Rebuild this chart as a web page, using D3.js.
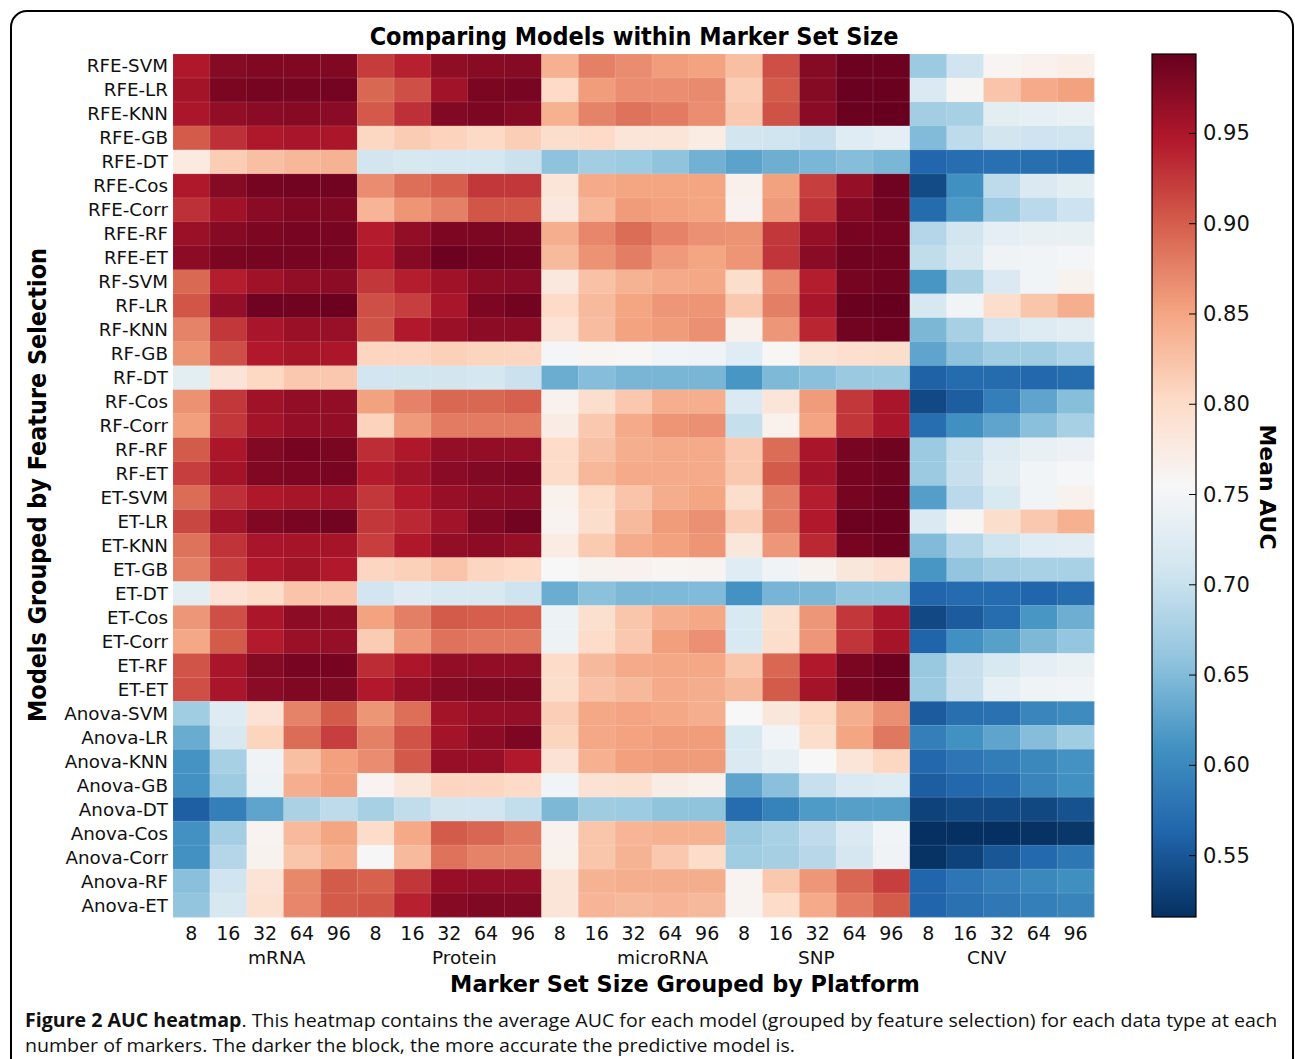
<!DOCTYPE html>
<html><head><meta charset="utf-8">
<script src="https://cdn.jsdelivr.net/npm/d3@7"></script>
<style>body{margin:0;background:#fff}svg{display:block}</style>
</head><body>
<svg id="chart" width="1295" height="1059"></svg>
<script>
const models = ["RFE-SVM","RFE-LR","RFE-KNN","RFE-GB","RFE-DT","RFE-Cos","RFE-Corr","RFE-RF","RFE-ET",
"RF-SVM","RF-LR","RF-KNN","RF-GB","RF-DT","RF-Cos","RF-Corr","RF-RF","RF-ET",
"ET-SVM","ET-LR","ET-KNN","ET-GB","ET-DT","ET-Cos","ET-Corr","ET-RF","ET-ET",
"Anova-SVM","Anova-LR","Anova-KNN","Anova-GB","Anova-DT","Anova-Cos","Anova-Corr","Anova-RF","Anova-ET"];
const platforms = ["mRNA","Protein","microRNA","SNP","CNV"];
const markerSizes = ["8","16","32","64","96"];
const colorbarTicks = [0.55,0.60,0.65,0.70,0.75,0.80,0.85,0.90,0.95];

const mRNA = [
[.948,.975,.978,.978,.978],[.955,.982,.985,.985,.986],[.950,.967,.972,.974,.972],[.902,.930,.948,.952,.950],
[.778,.815,.828,.835,.838],[.948,.975,.985,.987,.987],[.930,.958,.972,.978,.978],[.962,.974,.980,.983,.983],
[.970,.982,.985,.985,.983],[.892,.943,.958,.967,.970],[.905,.966,.988,.989,.990],[.874,.925,.952,.962,.963],
[.863,.910,.947,.953,.950],[.730,.787,.805,.820,.820],[.864,.925,.958,.967,.967],[.855,.925,.955,.966,.967],
[.902,.950,.977,.984,.982],[.920,.955,.978,.980,.983],[.890,.930,.948,.953,.958],[.915,.957,.978,.983,.987],
[.885,.928,.952,.954,.954],[.877,.920,.946,.955,.947],[.730,.790,.800,.823,.823],[.860,.910,.950,.970,.968],
[.848,.902,.945,.962,.965],[.906,.952,.975,.983,.984],[.910,.952,.972,.979,.979],[.671,.724,.790,.874,.902],
[.635,.716,.808,.890,.920],[.612,.676,.745,.828,.854],[.610,.668,.743,.842,.855],[.558,.590,.628,.678,.692],
[.610,.673,.762,.832,.850],[.610,.685,.763,.822,.840],[.655,.707,.788,.871,.902],[.660,.715,.794,.872,.902]];
const protein = [
[.922,.940,.968,.973,.975],[.893,.910,.957,.982,.983],[.903,.930,.977,.980,.974],[.806,.816,.810,.804,.814],
[.710,.715,.712,.712,.703],[.868,.888,.900,.925,.925],[.837,.862,.876,.905,.905],[.944,.967,.980,.981,.979],
[.947,.974,.990,.987,.985],[.925,.943,.958,.970,.972],[.910,.920,.952,.980,.987],[.907,.946,.962,.970,.970],
[.807,.807,.812,.808,.807],[.708,.709,.710,.712,.703],[.853,.875,.893,.893,.899],[.810,.858,.880,.880,.880],
[.932,.948,.966,.967,.966],[.945,.957,.972,.977,.980],[.925,.946,.964,.970,.972],[.925,.935,.957,.978,.987],
[.920,.948,.967,.970,.965],[.807,.812,.823,.807,.803],[.708,.724,.717,.717,.705],[.852,.877,.902,.900,.900],
[.816,.860,.886,.882,.882],[.933,.950,.967,.967,.967],[.946,.964,.975,.979,.979],[.861,.888,.955,.964,.966],
[.876,.907,.955,.970,.980],[.868,.903,.964,.964,.946],[.762,.784,.807,.807,.802],[.676,.695,.710,.708,.696],
[.800,.847,.902,.894,.882],[.756,.832,.886,.874,.874],[.898,.926,.964,.966,.966],[.905,.940,.974,.979,.977]];
const microRNA = [
[.840,.876,.868,.856,.852],[.802,.856,.867,.867,.869],[.840,.874,.885,.880,.867],[.797,.802,.785,.785,.775],
[.657,.672,.668,.658,.640],[.785,.845,.850,.850,.850],[.780,.835,.857,.853,.850],[.842,.872,.890,.875,.865],
[.832,.863,.878,.858,.850],[.780,.825,.838,.846,.848],[.802,.832,.850,.860,.862],[.788,.830,.852,.857,.865],
[.750,.760,.757,.746,.745],[.636,.652,.644,.644,.644],[.765,.797,.820,.842,.842],[.773,.820,.845,.862,.865],
[.800,.827,.842,.845,.846],[.800,.835,.845,.846,.846],[.766,.800,.823,.843,.850],[.762,.797,.832,.857,.865],
[.775,.818,.844,.853,.862],[.755,.763,.765,.760,.762],[.636,.656,.647,.648,.650],[.742,.795,.822,.842,.848],
[.742,.800,.820,.855,.865],[.800,.833,.846,.848,.848],[.798,.825,.833,.845,.843],[.814,.848,.851,.848,.842],
[.808,.848,.852,.856,.856],[.790,.840,.854,.857,.857],[.748,.790,.793,.773,.767],[.647,.670,.668,.658,.658],
[.765,.822,.837,.840,.840],[.766,.822,.838,.820,.800],[.785,.838,.842,.843,.843],[.786,.837,.833,.837,.833]];
const snp = [
[.828,.910,.975,.990,.990],[.815,.902,.975,.992,.993],[.820,.908,.972,.993,.994],[.710,.707,.700,.725,.732],
[.627,.637,.645,.652,.645],[.767,.853,.920,.965,.988],[.765,.858,.927,.976,.987],[.863,.925,.965,.984,.986],
[.862,.927,.972,.989,.989],[.798,.868,.943,.985,.989],[.820,.877,.952,.993,.994],[.767,.860,.937,.987,.990],
[.725,.757,.788,.796,.797],[.614,.648,.655,.666,.667],[.720,.786,.857,.925,.952],[.698,.766,.851,.926,.952],
[.820,.890,.952,.983,.989],[.820,.902,.956,.984,.989],[.797,.877,.943,.984,.991],[.814,.877,.946,.990,.993],
[.782,.860,.935,.984,.991],[.725,.745,.763,.782,.792],[.611,.643,.646,.661,.661],[.717,.795,.860,.925,.952],
[.717,.798,.860,.927,.954],[.822,.893,.946,.982,.990],[.833,.902,.955,.984,.990],[.755,.782,.805,.843,.866],
[.717,.747,.797,.850,.882],[.720,.734,.755,.786,.806],[.628,.655,.700,.718,.722],[.571,.594,.619,.623,.623],
[.666,.677,.694,.720,.747],[.671,.675,.688,.713,.745],[.762,.820,.860,.894,.920],[.762,.800,.846,.880,.902]];
const cnv = [
[.667,.707,.760,.765,.770],[.720,.758,.823,.845,.853],[.672,.676,.730,.733,.738],[.650,.692,.710,.706,.707],
[.565,.572,.574,.573,.570],[.540,.608,.692,.720,.730],[.570,.618,.668,.690,.704],[.685,.710,.732,.737,.737],
[.695,.715,.745,.748,.750],[.614,.678,.720,.748,.763],[.715,.748,.797,.822,.842],[.646,.676,.708,.722,.728],
[.628,.657,.671,.671,.682],[.560,.570,.570,.566,.571],[.538,.557,.590,.628,.653],[.572,.608,.628,.655,.676],
[.667,.698,.724,.737,.740],[.667,.700,.728,.746,.752],[.622,.690,.717,.747,.763],[.720,.758,.797,.820,.840],
[.650,.684,.705,.725,.728],[.614,.660,.672,.677,.677],[.564,.569,.569,.564,.571],[.538,.555,.571,.614,.637],
[.562,.608,.624,.647,.661],[.665,.700,.717,.732,.738],[.667,.700,.733,.745,.746],[.555,.573,.575,.597,.604],
[.590,.609,.628,.652,.671],[.566,.580,.588,.600,.611],[.557,.566,.572,.596,.608],[.532,.539,.539,.537,.546],
[.515,.516,.515,.518,.522],[.518,.532,.550,.567,.582],[.564,.580,.590,.600,.607],[.564,.576,.583,.590,.596]];
const platformValues = [mRNA, protein, microRNA, snp, cnv];

const vmin = 0.516, vmax = 0.994;
const rdbuR = ["#053061","#2166ac","#4393c3","#92c5de","#d1e5f0","#f7f7f7","#fddbc7","#f4a582","#d6604d","#b2182b","#67001f"];
const color = d3.scaleLinear()
  .domain(d3.range(11).map(i => vmin + (vmax - vmin) * i / 10))
  .range(rdbuR).interpolate(d3.interpolateRgb).clamp(true);

const svg = d3.select("#chart");
svg.append("rect").attr("x",11).attr("y",11).attr("width",1282).attr("height",1120)
  .attr("rx",16).attr("fill","#fff").attr("stroke","#000").attr("stroke-width",2);

const colKeys = [];
platforms.forEach(p => markerSizes.forEach(m => colKeys.push(p + "|" + m)));
const x = d3.scaleBand().domain(colKeys).range([173, 1094]);
const y = d3.scaleBand().domain(models).range([54, 917]);

const cells = [];
platforms.forEach((p, pi) => models.forEach((m, ri) => markerSizes.forEach((s, si) => {
  cells.push({col: p + "|" + s, row: m, v: platformValues[pi][ri][si]});
})));
svg.append("g").selectAll("rect").data(cells).join("rect")
  .attr("x", d => x(d.col)).attr("y", d => y(d.row))
  .attr("width", x.bandwidth() + 0.4).attr("height", y.bandwidth() + 0.4)
  .attr("fill", d => color(d.v));
svg.append("g").selectAll("rect").data(cells).join("rect")
  .attr("x", d => x(d.col)).attr("y", d => y(d.row))
  .attr("width", x.bandwidth()).attr("height", y.bandwidth())
  .attr("fill", "none").attr("stroke", "rgba(255,255,255,0.12)").attr("stroke-width", 0.6);

function fit(sel, w) {
  sel.each(function() {
    const len = this.getComputedTextLength();
    const t = this.getAttribute("transform") || "";
    this.setAttribute("transform", t + ` scale(${w / len},1)`);
  });
}

// y labels
svg.append("g").selectAll("text").data(models).join("text")
  .attr("x", 168).attr("y", d => y(d) + y.bandwidth() / 2)
  .attr("text-anchor", "end").attr("dominant-baseline", "central")
  .attr("font-family", "DejaVu Sans").attr("font-size", 18.3).attr("fill", "#111").text(d => d);

// x tick labels
svg.append("g").selectAll("text").data(colKeys).join("text")
  .attr("x", d => x(d) + x.bandwidth() / 2).attr("y", 940)
  .attr("text-anchor", "middle")
  .attr("font-family", "DejaVu Sans").attr("font-size", 19).attr("fill", "#111")
  .text(d => d.split("|")[1]);

// platform labels
const platLeft = [248, 432, 617, 798, 967];
svg.append("g").selectAll("text").data(platforms).join("text")
  .attr("transform", (d, i) => `translate(${platLeft[i]},964)`)
  .attr("font-family", "DejaVu Sans").attr("font-size", 18.5).attr("fill", "#111")
  .text(d => d);

// title
svg.append("text").attr("transform", "translate(634,45)").attr("text-anchor", "middle")
  .attr("font-family", "DejaVu Sans").attr("font-weight", "bold").attr("font-size", 25)
  .text("Comparing Models within Marker Set Size").call(fit, 529);

// x title
svg.append("text").attr("transform", "translate(685,992)").attr("text-anchor", "middle")
  .attr("font-family", "DejaVu Sans").attr("font-weight", "bold").attr("font-size", 23)
  .text("Marker Set Size Grouped by Platform").call(fit, 470);

// y title
svg.append("text").attr("transform", "translate(46,485) rotate(-90)").attr("text-anchor", "middle")
  .attr("font-family", "DejaVu Sans").attr("font-weight", "bold").attr("font-size", 25)
  .text("Models Grouped by Feature Selection").call(fit, 474);

// colorbar
const cb = d3.scaleLinear().domain([vmin, vmax]).range([917, 54]);
const defs = svg.append("defs");
const grad = defs.append("linearGradient").attr("id", "cbg").attr("x1", 0).attr("y1", 1).attr("x2", 0).attr("y2", 0);
d3.range(0, 1.0001, 0.02).forEach(t => {
  grad.append("stop").attr("offset", t).attr("stop-color", color(vmin + (vmax - vmin) * t));
});
svg.append("rect").attr("x", 1152).attr("y", cb(vmax)).attr("width", 44).attr("height", cb(vmin) - cb(vmax))
  .attr("fill", "url(#cbg)").attr("stroke", "#000").attr("stroke-width", 1.2);
const tg = svg.append("g").selectAll("g").data(colorbarTicks).join("g")
  .attr("transform", d => `translate(0,${cb(d)})`);
tg.append("line").attr("x1", 1189).attr("x2", 1196).attr("stroke", "#000").attr("stroke-width", 1);
tg.append("text").attr("x", 1203).attr("dominant-baseline", "central")
  .attr("font-family", "DejaVu Sans").attr("font-size", 21).attr("fill", "#111")
  .text(d => d.toFixed(2));
svg.append("text").attr("transform", "translate(1260,487) rotate(90)").attr("text-anchor", "middle")
  .attr("font-family", "DejaVu Sans").attr("font-weight", "bold").attr("font-size", 21)
  .text("Mean AUC").call(fit, 125);

// caption
const cap1 = svg.append("text").attr("transform", "translate(25,1027)")
  .attr("font-family", "Open Sans").attr("font-size", 19).attr("fill", "#111");
cap1.append("tspan").attr("font-weight", "bold").text("Figure 2 AUC heatmap");
cap1.append("tspan").text(". This heatmap contains the average AUC for each model (grouped by feature selection) for each data type at each");
const l1 = cap1.node().getComputedTextLength();
const s1 = 1253 / l1;
cap1.attr("transform", `translate(25,1027) scale(${s1},1)`);
svg.append("text").attr("transform", `translate(25,1052) scale(${s1},1)`)
  .attr("font-family", "Open Sans").attr("font-size", 19).attr("fill", "#111")
  .text("number of markers. The darker the block, the more accurate the predictive model is.");
</script>
</body></html>
